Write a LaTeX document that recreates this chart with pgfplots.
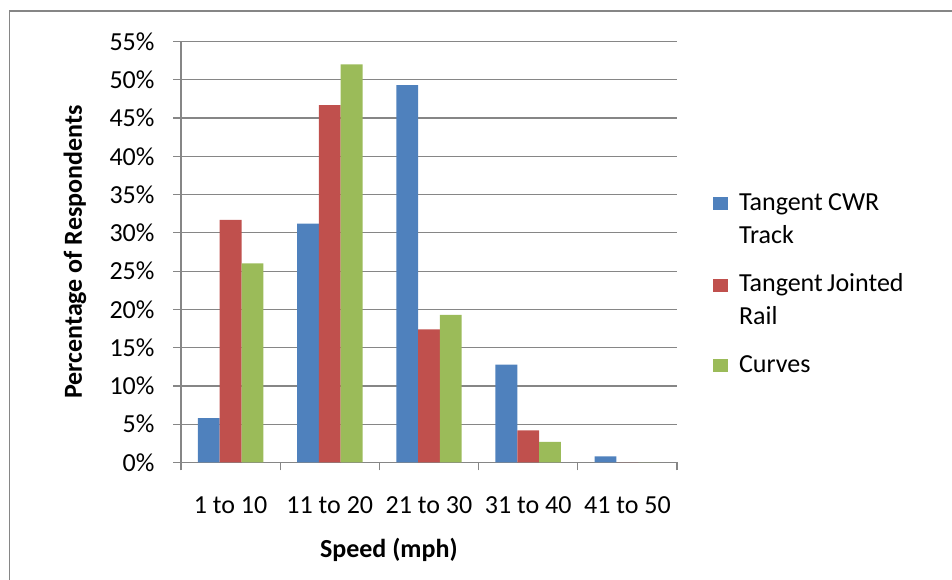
\documentclass[border=0pt]{standalone}
\usepackage{fontspec}
\setmainfont{Carlito}
\usepackage{pgfplots}
\pgfplotsset{compat=1.18}
\definecolor{cblue}{HTML}{4F81BD}
\definecolor{cred}{HTML}{C0504D}
\definecolor{cgreen}{HTML}{9BBB59}
\definecolor{cgrid}{HTML}{868686}
\begin{document}
\begin{tikzpicture}
\useasboundingbox (0pt,0pt) rectangle (952pt,580pt);
\draw[cgrid, line width=1.2pt] (9.5pt,-5pt) -- (9.5pt,569pt) -- (960pt,569pt);
\begin{axis}[
  at={(181pt,117.5pt)}, anchor=south west,
  scale only axis, width=496pt, height=421pt,
  xmin=-0.5, xmax=4.5, ymin=0, ymax=55,
  ybar=0pt, bar width=0.22,
  axis lines=left, axis line style={-, cgrid, line width=1.2pt},
  tick align=outside, major tick length=8pt, minor tick length=8pt,
  tick style={cgrid, line width=1.2pt},
  xtick={0,...,4}, xticklabels={1 to 10,11 to 20,21 to 30,31 to 40,41 to 50},
  minor xtick={-0.5,0.5,1.5,2.5,3.5,4.5},
  major x tick style={draw=none},
  ytick={0,5,...,55},
  yticklabel={\pgfmathprintnumber{\tick}\%},
  /pgf/number format/assume math mode=true,
  ymajorgrids, grid style={cgrid, line width=1.2pt},
  tick label style={font=\fontsize{26}{31}\selectfont},
  xticklabel style={anchor=base, yshift=-42.7pt},
  yticklabel style={xshift=-15pt},
  xlabel={Speed (mph)},
  ylabel={Percentage of Respondents},
  xlabel style={at={(axis description cs:0.419,-0.2245)}, anchor=base, font=\fontsize{26}{31}\selectfont\bfseries},
  ylabel style={at={(axis description cs:-0.1996,0.5)}, anchor=base, font=\fontsize{26}{31}\selectfont\bfseries},
  legend style={at={(axis description cs:1.0726,0.639)}, anchor=north west, draw=none, fill=none,
    inner sep=0pt, outer sep=0pt, column sep=11pt, row sep=62pt,
    font=\fontsize{26}{33}\selectfont,
    cells={anchor=base west},
    nodes={inner sep=0pt, text width=200pt, align=left}},
]
\addplot[fill=cblue, draw=none, legend image code/.code={\fill[cblue] (0pt,0pt) rectangle (15pt,13pt);}]
  coordinates {(0,5.8) (1,31.2) (2,49.3) (3,12.8) (4,0.8)};
\addplot[fill=cred, draw=none, legend image code/.code={\fill[cred] (0pt,0pt) rectangle (15pt,13pt);}]
  coordinates {(0,31.7) (1,46.7) (2,17.4) (3,4.2) (4,0)};
\addplot[fill=cgreen, draw=none, legend image code/.code={\fill[cgreen] (0pt,0pt) rectangle (15pt,13pt);}]
  coordinates {(0,26.0) (1,52.0) (2,19.3) (3,2.7) (4,0)};
\addlegendentry{\spaceskip=5.4pt\relax Tangent CWR\\Track}
\addlegendentry{\spaceskip=4.4pt\relax Tangent Jointed\\Rail}
\addlegendentry{Curves}
\end{axis}
\end{tikzpicture}
\end{document}
